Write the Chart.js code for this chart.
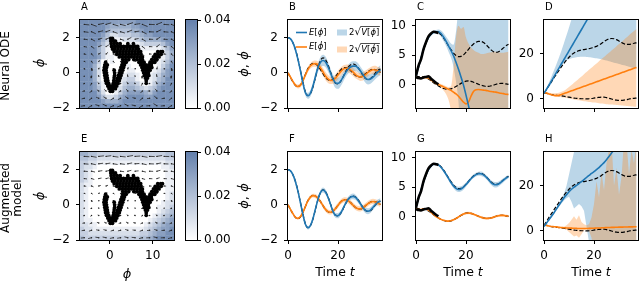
<!DOCTYPE html>
<html><head><meta charset="utf-8">
<script src="https://cdn.jsdelivr.net/npm/chart.js@4.4.1/dist/chart.umd.min.js"></script>
<style>
html,body{margin:0;padding:0;background:#fff;}
#wrap{position:relative;width:640px;height:281px;overflow:hidden;background:#fff;}
#wrap canvas{position:absolute;left:0;top:0;}
</style></head><body><div id="wrap"></div>
<script>
// ---------------- DATA ----------------
const T = [0,1,2,3,4,5,6,7,8,9,10,11,12,13,14,15,16,17,18,19,20,21,22,23,24,25,26,27,28,29,30,31,32,33,34,35,36,37];
const xTicksT = [0, 20];
const yTicksB = [-2, 0, 2];
const yTicksC = [0, 5, 10];
const yTicksD = [0, 20];
const xTicksPhase = [0, 10];
const yTicksPhase = [-2, 0, 2];
const cbTicks = [0, 0.02, 0.04];

// ground truth (dashed)
const truthPhiB  = [2.0,1.93,1.7,1.32,0.78,0.12,-0.55,-1.1,-1.3,-1.18,-0.8,-0.25,0.3,0.7,0.85,0.75,0.45,0.05,-0.35,-0.6,-0.63,-0.5,-0.25,0.05,0.3,0.45,0.5,0.45,0.3,0.08,-0.15,-0.32,-0.38,-0.33,-0.18,0.0,0.15,0.22];
const truthDphiB = [0,-0.27,-0.52,-0.72,-0.78,-0.68,-0.42,-0.08,0.25,0.45,0.53,0.5,0.38,0.18,-0.05,-0.27,-0.4,-0.43,-0.37,-0.22,-0.03,0.15,0.27,0.3,0.25,0.13,-0.02,-0.15,-0.23,-0.24,-0.17,-0.05,0.07,0.16,0.2,0.17,0.1,0.02];
const truthPhiC  = [1.5,3.1,4.5,5.9,7.1,8.0,8.6,8.95,9.0,8.85,8.5,7.95,7.3,6.6,5.95,5.35,4.95,4.75,4.8,5.05,5.5,6.0,6.5,6.9,7.2,7.35,7.35,7.15,6.8,6.35,5.9,5.6,5.5,5.6,5.9,6.25,6.6,6.85];
const truthDphiC = [1.4,1.35,1.3,1.3,1.2,0.95,0.65,0.3,0.0,-0.25,-0.5,-0.68,-0.78,-0.82,-0.75,-0.58,-0.35,-0.08,0.2,0.42,0.58,0.62,0.55,0.4,0.22,0.05,-0.12,-0.22,-0.3,-0.3,-0.22,-0.1,0.05,0.15,0.2,0.18,0.1,0.02];
const truthPhiD  = [2.5,4.2,6.0,7.7,9.4,11.0,12.7,14.3,15.8,17.2,18.5,19.6,20.4,21.0,21.4,21.7,21.9,22.1,22.3,22.6,22.9,23.3,23.9,24.6,25.4,26.1,26.6,26.8,26.7,26.3,25.7,25.0,24.5,24.2,24.2,24.4,24.7,24.9];
const truthDphiD = [2.8,2.5,2.2,1.9,1.8,1.6,1.5,1.4,1.2,1.0,0.8,0.6,0.4,0.3,0.2,0.1,0.1,0.0,0.1,0.2,0.4,0.6,0.7,0.8,0.8,0.6,0.3,0.0,-0.3,-0.5,-0.6,-0.6,-0.5,-0.3,0.0,0.2,0.3,0.4];
// observed training segment (solid black), t = 0..9
const trainPhiC  = [1.5,3.2,4.3,6.0,7.2,8.2,8.7,9.0,8.9,8.8];
const trainDphiC = [1.25,1.1,1.05,1.2,1.3,1.4,1.0,0.65,0.3,0.05];

// Panel B (neural ODE, test 1)
const meanPhiB  = [2.0,1.93,1.7,1.3,0.75,0.1,-0.6,-1.15,-1.3,-1.15,-0.75,-0.2,0.3,0.6,0.7,0.62,0.35,0.0,-0.35,-0.57,-0.6,-0.48,-0.25,0.0,0.2,0.33,0.38,0.38,0.28,0.1,-0.1,-0.3,-0.38,-0.35,-0.25,-0.1,0.05,0.15];
const sdPhiB    = [0.03,0.04,0.05,0.07,0.09,0.11,0.13,0.15,0.17,0.19,0.2,0.22,0.25,0.3,0.32,0.3,0.27,0.25,0.26,0.3,0.32,0.3,0.27,0.25,0.25,0.27,0.28,0.28,0.27,0.25,0.25,0.27,0.28,0.27,0.25,0.25,0.27,0.28];
const meanDphiB = [0.0,-0.25,-0.5,-0.7,-0.78,-0.7,-0.45,-0.1,0.2,0.4,0.5,0.52,0.45,0.28,0.05,-0.18,-0.35,-0.43,-0.42,-0.3,-0.12,0.05,0.2,0.26,0.25,0.17,0.05,-0.1,-0.2,-0.24,-0.2,-0.1,0.02,0.12,0.17,0.16,0.1,0.05];
const sdDphiB   = [0.04,0.05,0.07,0.09,0.11,0.12,0.13,0.14,0.15,0.16,0.17,0.18,0.19,0.2,0.22,0.24,0.23,0.21,0.2,0.22,0.24,0.23,0.21,0.2,0.22,0.24,0.23,0.21,0.2,0.22,0.24,0.23,0.21,0.2,0.22,0.24,0.23,0.22];

// Panel C (neural ODE, test 2)
const meanPhiC = [1.4,3.0,4.5,6.0,7.2,8.0,8.6,8.9,9.0,9.0,8.7,8.1,7.4,6.6,5.8,4.9,3.8,2.6,1.3,-0.1,-1.8,-3.6,-5.5,-7.5];
const hiPhiC   = [1.7,3.3,4.8,6.3,7.5,8.3,8.9,9.2,9.3,9.4,9.2,8.8,8.2,7.6,7.0,6.8,9,13,14,14,14,14,14,14,14,14,14,14,14,14,14,14,14,14,14,14,14,14];
const loPhiC   = [1.1,2.7,4.2,5.7,6.9,7.7,8.3,8.6,8.7,8.6,8.2,7.4,6.6,5.6,4.6,3.0,0.5,-3,-10,-10,-10,-10,-10,-10,-10,-10,-10,-10,-10,-10,-10,-10,-10,-10,-10,-10,-10,-10];
const meanDphiC = [1.3,1.1,1.1,1.2,1.2,1.1,0.8,0.5,0.2,0.0,-0.2,-0.4,-0.6,-0.8,-1.0,-1.3,-1.6,-2.0,-2.5,-3.0,-3.3,-3.0,-2.0,-1.2,-0.9,-0.85,-0.9,-0.95,-1.0,-1.1,-1.2,-1.25,-1.3,-1.4,-1.5,-1.55,-1.65,-1.7];
const hiDphiC  = [1.5,1.3,1.3,1.4,1.4,1.3,1.0,0.7,0.4,0.25,0.1,-0.1,-0.3,-0.45,-0.3,3,8,10,9.5,9.8,8,7,6.3,5.9,5.6,5.4,5.2,5.2,5.3,5.4,5.5,5.6,5.6,5.5,5.4,5.4,5.5,5.6];
const loDphiC  = [1.1,0.9,0.9,1.0,1.0,0.9,0.6,0.3,0.0,-0.3,-0.6,-1.0,-1.6,-2.6,-4.5,-8,-8,-8,-8,-8,-8,-8,-8,-8,-8,-8,-8,-8,-8,-8,-8,-8,-8,-8,-8,-8,-8,-8];

// Panel D (neural ODE, test 3)
const meanPhiD = [2.5,4.3,6.1,8.0,9.9,11.8,13.7,15.6,17.5,19.4,21.3,23.2,25.1,27.0,28.9,30.8,32.7,34.6,36.5,38.4];
const hiPhiD   = [2.8,5.0,7.4,10.0,12.7,15.5,18.4,21.5,24.8,28.2,31.7,35.3,39,43,47,50,50,50,50,50,50,50,50,50,50,50,50,50,50,50,50,50,50,50,50,50,50,50];
const loPhiD   = [2.2,3.7,5.2,6.9,8.9,11.2,13.3,14.9,16.1,17.0,17.6,18.0,18.3,18.5,18.6,18.7,18.7,18.6,18.5,18.4,18.2,18.0,17.8,17.6,17.3,17.0,16.7,16.4,16.1,15.8,15.5,15.2,14.9,14.6,14.3,14.0,13.7,13.4];
const meanDphiD = [2.9,2.6,2.2,1.9,1.6,1.5,1.6,2.0,2.4,2.8,3.2,3.6,4.0,4.4,4.8,5.2,5.6,6.0,6.4,6.8,7.2,7.6,8.0,8.4,8.8,9.2,9.6,10.0,10.4,10.8,11.2,11.6,12.0,12.4,12.8,13.2,13.6,14.0];
const hiDphiD  = [3.2,3.0,2.8,2.6,2.5,2.6,2.8,3.2,3.6,4.4,5.3,6.2,7.2,8.1,9.1,10.0,11.0,11.9,12.9,13.8,14.8,15.7,16.7,17.7,18.6,19.6,20.5,21.5,22.4,23.4,24.4,25.3,26.3,27.2,28.2,29.2,30.1,31.1];
const loDphiD  = [2.6,2.2,1.8,1.5,1.3,1.1,1.0,0.8,0.6,0.4,0.2,0.0,-0.2,-0.4,-0.6,-0.8,-1.0,-1.1,-1.3,-1.4,-1.6,-1.7,-1.9,-2.0,-2.1,-2.3,-2.4,-2.5,-2.6,-2.7,-2.8,-2.9,-3.0,-3.1,-3.2,-3.3,-3.4,-3.5];

// Panel F (augmented, test 1)
const meanPhiF  = [2.0,1.93,1.7,1.3,0.76,0.1,-0.57,-1.12,-1.3,-1.17,-0.78,-0.22,0.32,0.7,0.84,0.73,0.43,0.03,-0.37,-0.6,-0.62,-0.48,-0.22,0.07,0.3,0.44,0.48,0.42,0.26,0.05,-0.17,-0.32,-0.36,-0.3,-0.15,0.02,0.15,0.2];
const sdPhiF    = [0.02,0.03,0.04,0.05,0.06,0.07,0.08,0.09,0.1,0.1,0.11,0.11,0.12,0.13,0.14,0.14,0.13,0.12,0.13,0.14,0.15,0.14,0.13,0.13,0.14,0.15,0.16,0.15,0.14,0.14,0.15,0.16,0.17,0.16,0.15,0.15,0.16,0.17];
const meanDphiF = [0.0,-0.26,-0.51,-0.71,-0.77,-0.67,-0.42,-0.08,0.24,0.44,0.52,0.49,0.37,0.18,-0.05,-0.26,-0.39,-0.42,-0.36,-0.21,-0.03,0.15,0.26,0.29,0.24,0.12,-0.02,-0.15,-0.22,-0.23,-0.16,-0.05,0.07,0.15,0.19,0.16,0.09,0.01];
const sdDphiF   = [0.03,0.04,0.05,0.06,0.07,0.08,0.09,0.1,0.1,0.11,0.11,0.12,0.12,0.12,0.13,0.13,0.13,0.13,0.13,0.14,0.14,0.14,0.14,0.14,0.15,0.15,0.15,0.15,0.15,0.15,0.15,0.15,0.15,0.15,0.15,0.15,0.15,0.15];

// Panel G (augmented, test 2)
const meanPhiG  = [1.6,3.1,4.5,5.9,7.1,8.0,8.6,8.9,8.95,8.8,8.4,7.85,7.2,6.5,5.8,5.2,4.8,4.62,4.7,5.0,5.45,5.95,6.45,6.85,7.15,7.3,7.3,7.1,6.75,6.3,5.8,5.5,5.42,5.55,5.85,6.2,6.55,6.8];
const sdPhiG    = [0.1,0.12,0.14,0.15,0.16,0.17,0.18,0.19,0.2,0.22,0.24,0.27,0.3,0.33,0.36,0.4,0.43,0.45,0.45,0.42,0.37,0.33,0.3,0.3,0.32,0.35,0.38,0.38,0.35,0.35,0.4,0.45,0.45,0.42,0.38,0.35,0.33,0.32];
const meanDphiG = [1.3,1.2,1.2,1.3,1.3,1.1,0.75,0.35,0.0,-0.25,-0.48,-0.65,-0.75,-0.78,-0.72,-0.56,-0.33,-0.07,0.2,0.42,0.56,0.6,0.54,0.4,0.22,0.05,-0.12,-0.24,-0.32,-0.32,-0.25,-0.12,0.03,0.14,0.2,0.19,0.12,0.04];
const sdDphiG   = [0.08,0.09,0.1,0.1,0.11,0.11,0.12,0.12,0.13,0.13,0.14,0.14,0.15,0.16,0.17,0.17,0.17,0.18,0.19,0.2,0.2,0.2,0.19,0.18,0.18,0.19,0.2,0.21,0.21,0.2,0.19,0.19,0.2,0.21,0.22,0.22,0.21,0.2];

// Panel H (augmented, test 3)
const meanPhiH = [2.0,3.5,5.0,6.5,8.1,9.8,11.5,13.1,14.7,16.1,17.4,18.5,19.4,20.2,21.0,21.9,22.8,23.7,24.6,25.5,26.3,27.2,28.1,29.2,30.3,31.6,33.0,34.5,36.0,37.5];
const hiPhiH   = [2.2,3.8,5.4,7.0,8.7,10.5,12.3,14.0,16.5,20,25,30,35,40,45,45,45,45,45,45,45,45,45,45,45,45,45,45,45,45,45,45,45,45,45,45,45,45];
const loPhiH   = [1.8,3.2,4.6,6.0,7.5,9.1,10.7,12.2,13.5,14.5,15.2,13,10,11,12,11,9,2,-5,-10,-10,-10,-10,-10,-10,-10,-10,-10,-10,-10,-10,-10,-10,-10,-10,-10,-10,-10];
const meanDphiH = [2.6,2.4,2.2,2.0,1.9,1.8,1.6,1.5,1.4,1.35,1.3,1.25,1.2,1.15,1.1,1.1,1.1,1.1,1.15,1.2,1.2,1.3,1.3,1.4,1.45,1.5,1.55,1.6,1.6,1.65,1.7,1.7,1.75,1.75,1.8,1.8,1.85,1.85];
const hiDphiH  = [2.8,2.6,2.4,2.2,2.1,2.0,1.9,1.8,1.9,2.5,3.5,5,6.5,5,7,4,3,2.5,3,6,12,22,15,26,18,30,36,40,20,28,16,24,40,40,25,36,30,40];
const loDphiH  = [2.4,2.2,2.0,1.8,1.7,1.6,1.4,1.2,1.0,0.5,-0.5,-1.5,-2.5,-2,-3,-1.5,0.3,0.6,0,-3,-10,-10,-10,-10,-10,-10,-10,-10,-10,-10,-10,-10,-10,-10,-10,-10,-10,-10];

// Phase portraits: uncertainty heat maps (digit d -> d*0.005), rows top (2.875) to bottom (-1.875)
const hmX = [-6.5,-5.5,-4.5,-3.5,-2.5,-1.5,-0.5,0.5,1.5,2.5,3.5,4.5,5.5,6.5,7.5,8.5,9.5,10.5,11.5,12.5,13.5,14.5];
const hmY = [2.875,2.625,2.375,2.125,1.875,1.625,1.375,1.125,0.875,0.625,0.375,0.125,-0.125,-0.375,-0.625,-0.875,-1.125,-1.375,-1.625,-1.875];
const heatA = [
"7777777666666777777777",
"7777776555556677777777",
"7777775444445567777777",
"7777764223334456677777",
"7777753011222345555677",
"7777642000011123333467",
"7777531000000011111246",
"7777531000000000000135",
"7777631100000000000135",
"7776300100000000001246",
"7775200000010000001357",
"7775200000011000012467",
"7775200000122100123567",
"7775200001233100124577",
"7776310001344310135677",
"7776410002455432346777",
"7777520013566665467777",
"7777642235677776677777",
"7777765556777777777777",
"7777777777777777777777"];
const heatE = [
"5544333333333333333344",
"4433222222222222222233",
"3322111111111111111122",
"3221000000000000000112",
"3210000000000000000011",
"3210000000000000000011",
"3210000000000000000011",
"2110000000000000000011",
"2100000000000000000011",
"2100000000000000000012",
"2100000000000000000012",
"2100000000000000000122",
"2100000000000000001123",
"2100000000000000001234",
"2100000000000000012345",
"2110000000000000123456",
"2211000000000001234566",
"3221111111111112345667",
"3322222222222233456677",
"4333333333333344567777"];

// vector field (quiver): grid, arrow phi-length per row, arrow phidot-length per column
const qX = [-6.0,-4.3,-2.6,-0.9,0.8,2.5,4.2,5.9,7.6,9.3,11.0,12.7,14.4];
const qY = [2.75,2.33,1.91,1.49,1.07,0.65,0.23,-0.19,-0.61,-1.03,-1.45,-1.87];
const qU = [1.2,1.0,0.82,0.64,0.46,0.28,0.1,-0.08,-0.26,-0.44,-0.62,-0.8];
const qVA = [-0.03,-0.11,0.06,0.09,-0.09,-0.07,0.1,0.04,-0.12,-0.01,0.12,-0.02,-0.12];
const qVE = [-0.02,-0.05,0.03,0.04,-0.04,-0.03,0.05,0.02,-0.05,-0.01,0.05,-0.01,-0.05];

// training observations (phi, phidot): rows of [phidot, [phi...]]
const cloudRows = [
[1.95,[0.2,0.6]],
[1.8,[0.2,0.8,1.3]],
[1.65,[0.3,1.0,1.7,2.4,4.2,5.5]],
[1.5,[0.4,1.1,1.8,2.5,3.2,3.9,4.6,5.3,6.0,6.5]],
[1.35,[0.6,1.2,1.9,2.6,3.3,4.0,4.7,5.4,6.1,6.7]],
[1.2,[1.0,1.7,2.4,3.1,3.8,4.5,5.2,5.9,6.6,7.2,11.2,11.9,12.3]],
[1.05,[1.6,2.3,3.0,3.7,4.4,5.1,5.8,6.5,7.2,10.6,11.3,12.0]],
[0.9,[2.2,2.9,3.6,4.3,5.0,5.7,6.4,7.1,7.6,10.2,10.9,11.5]],
[0.75,[3.0,3.7,4.4,5.6,6.3,7.0,7.6,9.8,10.5,11.0]],
[0.6,[-1.0,3.0,3.6,3.8,6.8,7.4,8.0,9.4,10.0,10.5]],
[0.45,[-1.2,-0.6,2.8,3.4,7.2,7.8,8.4,9.1,9.7]],
[0.3,[-1.3,-0.8,2.6,3.2,7.5,8.1,8.7,9.3,9.8]],
[0.15,[-1.4,-0.9,1.0,2.4,3.0,7.7,8.3,8.9,9.4]],
[0.0,[-1.3,-0.8,1.1,2.2,2.8,7.9,8.5,9.0]],
[-0.15,[-1.2,-0.7,1.1,2.0,2.6,8.1,8.7,9.1]],
[-0.3,[-1.1,-0.6,1.0,1.8,2.4,8.3,8.8]],
[-0.45,[-1.0,-0.5,0.9,1.6,2.2,8.5]],
[-0.6,[-0.8,-0.3,0.8,1.3,1.9,8.5]],
[-0.75,[-0.5,0.0,0.5,1.0,1.6]],
[-0.9,[-0.2,0.3,0.8,1.3]],
[-1.05,[0.1,0.6]]
];

// ---------------- STYLE / HELPERS ----------------
const FONT = 'DejaVu Sans';
const BLUE = '#1f77b4', ORANGE = '#ff7f0e';
const BLUE_A = 'rgba(31,119,180,0.3)', ORANGE_A = 'rgba(255,127,14,0.3)';
const CB_TOP = [100,128,172];
const W = 640, H = 281;
const PHI = '\u03D5', PHID = '\u03D5\u0307', MINUS = '\u2212';

function cmap(v){
  const t = Math.max(0, Math.min(1, v/0.04));
  const c = CB_TOP.map(k => Math.round(255 + (k-255)*t));
  return 'rgb(' + c.join(',') + ')';
}
function fmt(v){ const r = Math.round(v*100)/100; return r < 0 ? MINUS + String(-r) : String(r); }
function pts(ys){ const o=[]; for(let i=0;i<T.length && i<ys.length;i++){ if(ys[i]!==null) o.push({x:T[i], y:ys[i]}); } return o; }
function plus(a,b,s){ return a.map((v,i)=> v + s*(b[i]||0)); }

function line(ys, color, width, dash, order){
  return {data: pts(ys), borderColor: color, borderWidth: width, borderDash: dash||[], pointRadius: 0, fill: false, order: order, cubicInterpolationMode: 'monotone', clip: 0};
}
function band(hi, lo, color, order, sharp){
  const mode = sharp ? 'default' : 'monotone';
  return [
    {data: pts(hi), fill: '+1', backgroundColor: color, borderColor: 'rgba(0,0,0,0)', borderWidth: 1, pointRadius: 0, order: order, cubicInterpolationMode: mode, tension: 0, clip: 0},
    {data: pts(lo), fill: false, borderColor: 'rgba(0,0,0,0)', borderWidth: 1, pointRadius: 0, order: order, cubicInterpolationMode: mode, tension: 0, clip: 0}
  ];
}

function axis(pos, min, max, ticks, labels, size, f){
  return {
    type: 'linear', position: pos, min: min, max: max,
    afterBuildTicks: s => { s.ticks = ticks.map(v => ({value: v})); },
    afterFit: s => { if (pos === 'left' || pos === 'right') s.width = size; else s.height = size; },
    ticks: {callback: v => labels ? (f || fmt)(v) : '', font: {family: FONT, size: 12}, color: '#000',
            padding: (pos === 'bottom') ? 5 : (pos === 'right' ? 3 : 6), maxRotation: 0, minRotation: 0, autoSkip: false},
    grid: {display: true, drawOnChartArea: false, drawTicks: true, tickLength: 4, tickColor: '#000', tickWidth: 1, color: '#000'},
    border: {display: false}
  };
}

const frame = {id: 'frame', afterDraw(chart){
  const c = chart.ctx, a = chart.chartArea;
  c.save(); c.strokeStyle = '#000'; c.lineWidth = 1;
  c.strokeRect(Math.round(a.left) - 0.5, Math.round(a.top) - 0.5, Math.round(a.right - a.left) + 1, Math.round(a.bottom - a.top) + 1);
  c.restore();
}};

// rich text: parts = [[text, italic?], ...]
function drawRich(c, parts, x, y, size, align, rot){
  c.save(); c.translate(x, y); if (rot) c.rotate(rot);
  c.textBaseline = 'middle'; c.fillStyle = '#000';
  let total = 0; const ws = [];
  for (const p of parts){ c.font = (p[1] ? 'italic ' : '') + size + 'px "' + FONT + '"'; const w = c.measureText(p[0]).width; ws.push(w); total += w; }
  let cx = align === 'left' ? 0 : -total/2;
  parts.forEach((p, i) => { c.font = (p[1] ? 'italic ' : '') + size + 'px "' + FONT + '"'; c.textAlign = 'left'; c.fillText(p[0], cx, 0); cx += ws[i]; });
  c.restore();
  return total;
}
function texts(items){
  return {id: 'texts', afterDraw(chart){
    const c = chart.ctx;
    for (const it of items) drawRich(c, it.parts, it.x, it.y, it.size, it.align || 'center', it.rot || 0);
  }};
}
const ROT = -Math.PI/2;

const legendB = {id: 'legendB', afterDraw(chart){
  const c = chart.ctx, a = chart.chartArea;
  const x0 = a.left + 8, y1 = a.top + 12.5, y2 = a.top + 27, y2b = a.top + 29.5;
  c.save();
  c.lineWidth = 1.6;
  c.strokeStyle = BLUE; c.beginPath(); c.moveTo(x0, y1); c.lineTo(x0 + 11, y1); c.stroke();
  c.strokeStyle = ORANGE; c.beginPath(); c.moveTo(x0, y2); c.lineTo(x0 + 11, y2); c.stroke();
  drawRich(c, [['E', true], ['[', false], [PHI, true], [']', false]], x0 + 13, y1, 8.5, 'left');
  drawRich(c, [['E', true], ['[', false], [PHID, true], [']', false]], x0 + 13, y2, 8.5, 'left');
  const px = a.left + 49;
  c.fillStyle = BLUE_A; c.fillRect(px, y1 - 3, 10, 6);
  c.fillStyle = ORANGE_A; c.fillRect(px, y2b - 3, 10, 6);
  function sq(y, sym){
    let x = px + 12;
    x += drawRich(c, [['2', false]], x, y, 8.5, 'left');
    x += drawRich(c, [['\u221A', false]], x, y, 10, 'left');
    const w = drawRich(c, [['V', true], ['[', false], [sym, true], [']', false]], x + 0.5, y + 0.5, 8.5, 'left');
    c.strokeStyle = '#000'; c.lineWidth = 0.7; c.beginPath(); c.moveTo(x - 0.5, y - 6); c.lineTo(x + w + 1, y - 6); c.stroke();
  }
  sq(y1, PHI); sq(y2b, PHID);
  c.restore();
}};

function mkCanvas(){ const cv = document.createElement('canvas'); cv.width = W; cv.height = H; document.getElementById('wrap').appendChild(cv); return cv; }

function mkChart(type, box, xs, ys, datasets, plugins){
  return new Chart(mkCanvas(), {
    type: type,
    data: {datasets: datasets},
    options: {
      responsive: false, animation: false, devicePixelRatio: 1, events: [],
      layout: {padding: {left: 0, top: box.t, right: W - box.r, bottom: 0}},
      plugins: {legend: {display: false}, tooltip: {enabled: false}},
      scales: {x: xs, y: ys}
    },
    plugins: [frame].concat(plugins || [])
  });
}

// ---------------- PHASE PORTRAITS ----------------
function heatDs(grid){
  const data = [], col = [];
  hmY.forEach((y, r) => hmX.forEach((x, c) => { data.push({x: x, y: y}); col.push(cmap((+(grid[r][c] || '0')) * 0.005)); }));
  return {data: data, pointStyle: 'rect', pointRadius: 3.35, backgroundColor: col, borderColor: col, borderWidth: 0, order: 10, clip: 0};
}
function quiverDs(V){
  const data = [];
  qY.forEach((y, r) => qX.forEach((x, c) => { data.push({x: x, y: y}); data.push({x: x + qU[r], y: y + V[c]}); data.push({x: x + qU[r], y: null}); }));
  return {data: data, showLine: true, spanGaps: false, borderColor: '#222', borderWidth: 0.8, pointRadius: 0, order: 5, clip: 0};
}
function dotDs(){
  const data = []; qY.forEach(y => qX.forEach(x => data.push({x: x, y: y})));
  return {data: data, pointRadius: 0.7, backgroundColor: '#222', borderWidth: 0, order: 4, clip: 0};
}
function cloudDs(){
  const data = []; cloudRows.forEach(r => r[1].forEach(x => data.push({x: x, y: r[0]})));
  return {data: data, pointRadius: 1.9, backgroundColor: '#000', borderWidth: 0, order: 1, clip: 0};
}
function phase(box, heat, V, showX, extra){
  return mkChart('scatter', box,
    axis('bottom', -7, 15, xTicksPhase, showX, H - box.b),
    axis('left', -2, 3, yTicksPhase, true, box.l),
    [cloudDs(), dotDs(), quiverDs(V), heatDs(heat)], [texts(extra)]);
}
function colorbar(box){
  return new Chart(mkCanvas(), {
    type: 'bar',
    data: {labels: ['c'], datasets: [{data: [[0, 0.04]], barPercentage: 1, categoryPercentage: 1, borderWidth: 0,
      backgroundColor: (ctx) => { const ch = ctx.chart, a = ch.chartArea; if (!a) return cmap(0.02);
        const g = ch.ctx.createLinearGradient(0, a.bottom, 0, a.top); for (let i = 0; i <= 8; i++) g.addColorStop(i/8, cmap(i*0.005)); return g; }}]},
    options: {
      responsive: false, animation: false, devicePixelRatio: 1, events: [],
      layout: {padding: {left: box.l, top: box.t, right: 0, bottom: H - box.b}},
      plugins: {legend: {display: false}, tooltip: {enabled: false}},
      scales: {x: {display: false}, y: axis('right', 0, 0.04, cbTicks, true, W - box.r, v => v.toFixed(2))}
    },
    plugins: [frame]
  });
}

const boxA = {l: 80, t: 20, r: 174, b: 108}, boxE = {l: 80, t: 152, r: 174, b: 240};
phase(boxA, heatA, qVA, false, [
  {parts: [['A', false]], x: 81, y: 7, size: 10, align: 'left'},
  {parts: [[PHID, true]], x: 41, y: 63, size: 13, rot: ROT},
  {parts: [['Neural ODE', false]], x: 6, y: 66, size: 12, rot: ROT}
]);
phase(boxE, heatE, qVE, true, [
  {parts: [['E', false]], x: 81, y: 139, size: 10, align: 'left'},
  {parts: [[PHID, true]], x: 41, y: 196, size: 13, rot: ROT},
  {parts: [['Augmented', false]], x: 6, y: 198, size: 12, rot: ROT},
  {parts: [['model', false]], x: 18, y: 198, size: 12, rot: ROT},
  {parts: [[PHI, true]], x: 127, y: 275, size: 13}
]);
colorbar({l: 186, t: 20, r: 197, b: 108});
colorbar({l: 186, t: 152, r: 197, b: 240});

// ---------------- TIME SERIES ----------------
// draw order (lower order = on top): training 0, means 1, truth 2, bands 8-9
function series(box, yr, yt, showX, p){
  const ds = [];
  if (p.trainPhi){ ds.push(line(p.trainPhi, '#000', 2.6, [], 0)); ds.push(line(p.trainDphi, '#000', 2.6, [], 0)); }
  ds.push(line(p.mPhi, BLUE, 1.6, [], 1));
  ds.push(line(p.mDphi, ORANGE, 1.6, [], 1));
  ds.push(line(p.truthPhi, '#000', 1.2, [4, 2], 2));
  ds.push(line(p.truthDphi, '#000', 1.2, [4, 2], 2));
  band(p.hiPhi, p.loPhi, BLUE_A, 9, p.sharpPhi).forEach(d => ds.push(d));
  band(p.hiDphi, p.loDphi, ORANGE_A, 8, p.sharpDphi).forEach(d => ds.push(d));
  return mkChart('line', box,
    axis('bottom', 0, 37.6, xTicksT, showX, H - box.b),
    axis('left', yr[0], yr[1], yt, true, box.l),
    ds, p.plugins);
}
const timeLabel = x => ({parts: [['Time ', false], ['t', true]], x: x, y: 272.5, size: 12.5});
const yLabelB = y => ({parts: [[PHI, true], [', ', false], [PHID, true]], x: 245, y: y, size: 13, rot: ROT});

series({l: 288, t: 20, r: 382, b: 108}, [-2, 3], yTicksB, false, {
  truthPhi: truthPhiB, truthDphi: truthDphiB, mPhi: meanPhiB, mDphi: meanDphiB,
  hiPhi: plus(meanPhiB, sdPhiB, 1), loPhi: plus(meanPhiB, sdPhiB, -1), hiDphi: plus(meanDphiB, sdDphiB, 1), loDphi: plus(meanDphiB, sdDphiB, -1),
  plugins: [texts([{parts: [['B', false]], x: 289, y: 7, size: 10, align: 'left'}, yLabelB(64)]), legendB]
});
series({l: 416, t: 20, r: 510, b: 108}, [-4, 11], yTicksC, false, {
  truthPhi: truthPhiC, truthDphi: truthDphiC, trainPhi: trainPhiC, trainDphi: trainDphiC, mPhi: meanPhiC, mDphi: meanDphiC,
  hiPhi: hiPhiC, loPhi: loPhiC, hiDphi: hiDphiC, loDphi: loDphiC,
  plugins: [texts([{parts: [['C', false]], x: 417, y: 7, size: 10, align: 'left'}])]
});
series({l: 544, t: 20, r: 638, b: 108}, [-4, 35], yTicksD, false, {
  truthPhi: truthPhiD, truthDphi: truthDphiD, mPhi: meanPhiD, mDphi: meanDphiD,
  hiPhi: hiPhiD, loPhi: loPhiD, hiDphi: hiDphiD, loDphi: loDphiD,
  plugins: [texts([{parts: [['D', false]], x: 545, y: 7, size: 10, align: 'left'}])]
});
series({l: 288, t: 152, r: 382, b: 240}, [-2, 3], yTicksB, true, {
  truthPhi: truthPhiB, truthDphi: truthDphiB, mPhi: meanPhiF, mDphi: meanDphiF,
  hiPhi: plus(meanPhiF, sdPhiF, 1), loPhi: plus(meanPhiF, sdPhiF, -1), hiDphi: plus(meanDphiF, sdDphiF, 1), loDphi: plus(meanDphiF, sdDphiF, -1),
  plugins: [texts([{parts: [['F', false]], x: 289, y: 139, size: 10, align: 'left'}, yLabelB(196), timeLabel(335)])]
});
series({l: 416, t: 152, r: 510, b: 240}, [-4, 11], yTicksC, true, {
  truthPhi: truthPhiC, truthDphi: truthDphiC, trainPhi: trainPhiC, trainDphi: trainDphiC, mPhi: meanPhiG, mDphi: meanDphiG,
  hiPhi: plus(meanPhiG, sdPhiG, 1), loPhi: plus(meanPhiG, sdPhiG, -1), hiDphi: plus(meanDphiG, sdDphiG, 1), loDphi: plus(meanDphiG, sdDphiG, -1),
  plugins: [texts([{parts: [['G', false]], x: 417, y: 139, size: 10, align: 'left'}, timeLabel(463)])]
});
series({l: 544, t: 152, r: 638, b: 240}, [-4, 35], yTicksD, true, {
  truthPhi: truthPhiD, truthDphi: truthDphiD, mPhi: meanPhiH, mDphi: meanDphiH,
  hiPhi: hiPhiH, loPhi: loPhiH, hiDphi: hiDphiH, loDphi: loDphiH, sharpPhi: true, sharpDphi: true,
  plugins: [texts([{parts: [['H', false]], x: 545, y: 139, size: 10, align: 'left'}, timeLabel(591)])]
});
</script></body></html>
